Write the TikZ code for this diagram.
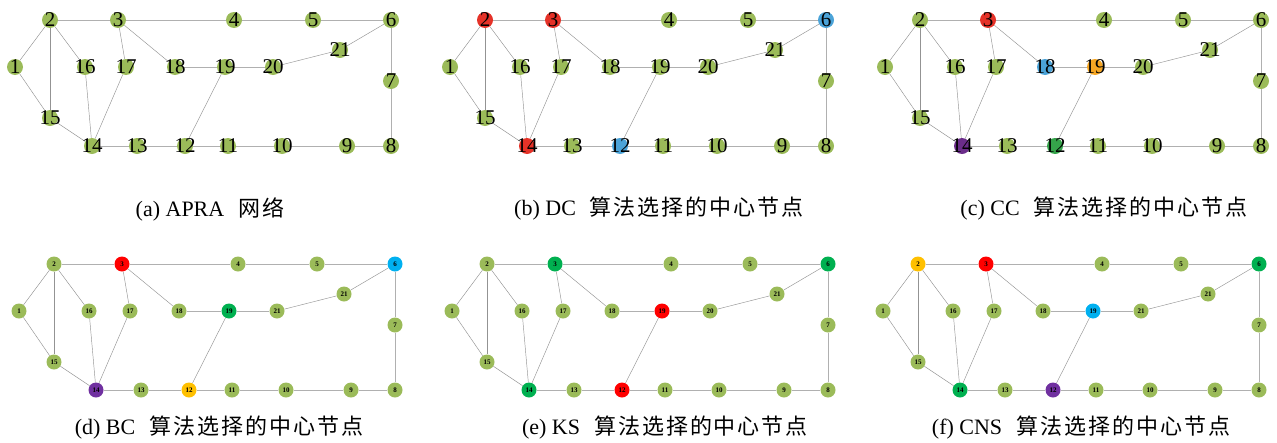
\documentclass[tikz,border=0pt]{standalone}
\usepackage{fontspec}
\setmainfont{Liberation Serif}
\newfontfamily\cjk[LetterSpace=9]{Noto Sans CJK SC}
\usetikzlibrary{backgrounds}
\definecolor{ol}{HTML}{9BBB59}
\definecolor{tred}{HTML}{E53228}
\definecolor{tblue}{HTML}{4BA3D8}
\definecolor{torange}{HTML}{F6A623}
\definecolor{tpurple}{HTML}{6B2D8A}
\definecolor{tgreen}{HTML}{35A34A}
\definecolor{bred}{HTML}{FF0000}
\definecolor{bblue}{HTML}{00B0F0}
\definecolor{bgreen}{HTML}{00B050}
\definecolor{bpurple}{HTML}{7030A0}
\definecolor{borange}{HTML}{FFC000}
\newcommand\nodecol[2]{\expandafter\def\csname c#1\endcsname{#2}}
\newcommand\nodelbl[2]{\expandafter\def\csname l#1\endcsname{#2}}
% (b) DC
\nodecol{b2}{tred}\nodecol{b3}{tred}\nodecol{b14}{tred}\nodecol{b6}{tblue}\nodecol{b12}{tblue}
% (c) CC
\nodecol{c3}{tred}\nodecol{c18}{tblue}\nodecol{c19}{torange}\nodecol{c14}{tpurple}\nodecol{c12}{tgreen}
% (d) BC
\nodecol{d3}{bred}\nodecol{d6}{bblue}\nodecol{d19}{bgreen}\nodecol{d14}{bpurple}\nodecol{d12}{borange}
\nodelbl{d20}{21}
% (e) KS
\nodecol{e3}{bgreen}\nodecol{e6}{bgreen}\nodecol{e14}{bgreen}\nodecol{e19}{bred}\nodecol{e12}{bred}
% (f) CNS
\nodecol{f2}{borange}\nodecol{f3}{bred}\nodecol{f6}{bgreen}\nodecol{f19}{bblue}\nodecol{f14}{bgreen}\nodecol{f12}{bpurple}
\nodelbl{f20}{21}
\tikzset{
  nd/.style={circle, inner sep=0pt, draw=none},
  ndT/.style={nd, minimum size=16pt},
  ndB/.style={nd, minimum size=15pt},
  lblT/.style={font=\fontsize{21}{21}\selectfont, inner sep=0pt, text=black},
  lblB/.style={font=\fontsize{7}{7}\selectfont\bfseries, inner sep=0pt, text=black},
  ax/.style={draw=gray!62, line width=0.9pt},
  dg/.style={draw=gray!85, line width=0.45pt},
  captxt/.style={font=\fontsize{22}{24}\selectfont, inner sep=0pt}
}
\newcommand\drawnet[5]{%
\begin{scope}[shift={(#2,#3)}]
\foreach \n/\x/\y in {1/15/67,2/50/20,3/118/20,4/234/20,5/313/20,6/391/20,7/391/81,8/391/146,9/347/146,10/282/146,11/228/146,12/185/146,13/137/146,14/92/146,15/50/118,16/85/67,17/126/67,18/175/67,19/225/67,20/273/67,21/340/50}{%
  \ifcsname c#1\n\endcsname \edef\fc{\csname c#1\n\endcsname}\else\def\fc{ol}\fi
  \ifcsname l#1\n\endcsname \edef\lb{\csname l#1\n\endcsname}\else\edef\lb{\n}\fi
  \node[#4, fill=\fc, label={[#5]center:\lb}] (#1\n) at (\x,\y) {};
}
\begin{pgfonlayer}{background}
\foreach \u/\v in {2/3,3/4,4/5,5/6,6/7,7/8,8/9,9/10,10/11,11/12,12/13,13/14,18/19,19/20}{\draw[ax] (#1\u) -- (#1\v);}
\foreach \u/\v in {1/2,2/16,2/15,1/15,15/14,16/14,17/14,3/17,3/18,20/21,21/6,19/12}{\draw[dg] (#1\u) -- (#1\v);}
\end{pgfonlayer}
\end{scope}}
\begin{document}
\begin{tikzpicture}[x=1pt,y=-1pt]
\useasboundingbox (0,0) rectangle (1277,442);
\drawnet{a}{0}{0}{ndT}{lblT}
\drawnet{b}{435}{0}{ndT}{lblT}
\drawnet{c}{870}{0}{ndT}{lblT}
\drawnet{d}{4}{244}{ndB}{lblB}
\drawnet{e}{437}{244}{ndB}{lblB}
\drawnet{f}{868}{244}{ndB}{lblB}
\node[captxt] (capa) at (210,209) {(a) APRA\hspace{14pt}{\cjk 网络}};
\node[captxt] (capb) at (659,209) {(b) DC\hspace{14pt}{\cjk 算法选择的中心节点}};
\node[captxt] (capc) at (1104,209) {(c) CC\hspace{14pt}{\cjk 算法选择的中心节点}};
\node[captxt] (capd) at (219,428) {(d) BC\hspace{14pt}{\cjk 算法选择的中心节点}};
\node[captxt] (cape) at (665,428) {(e) KS\hspace{14pt}{\cjk 算法选择的中心节点}};
\node[captxt] (capf) at (1081,428) {(f) CNS\hspace{14pt}{\cjk 算法选择的中心节点}};
\end{tikzpicture}
\end{document}
